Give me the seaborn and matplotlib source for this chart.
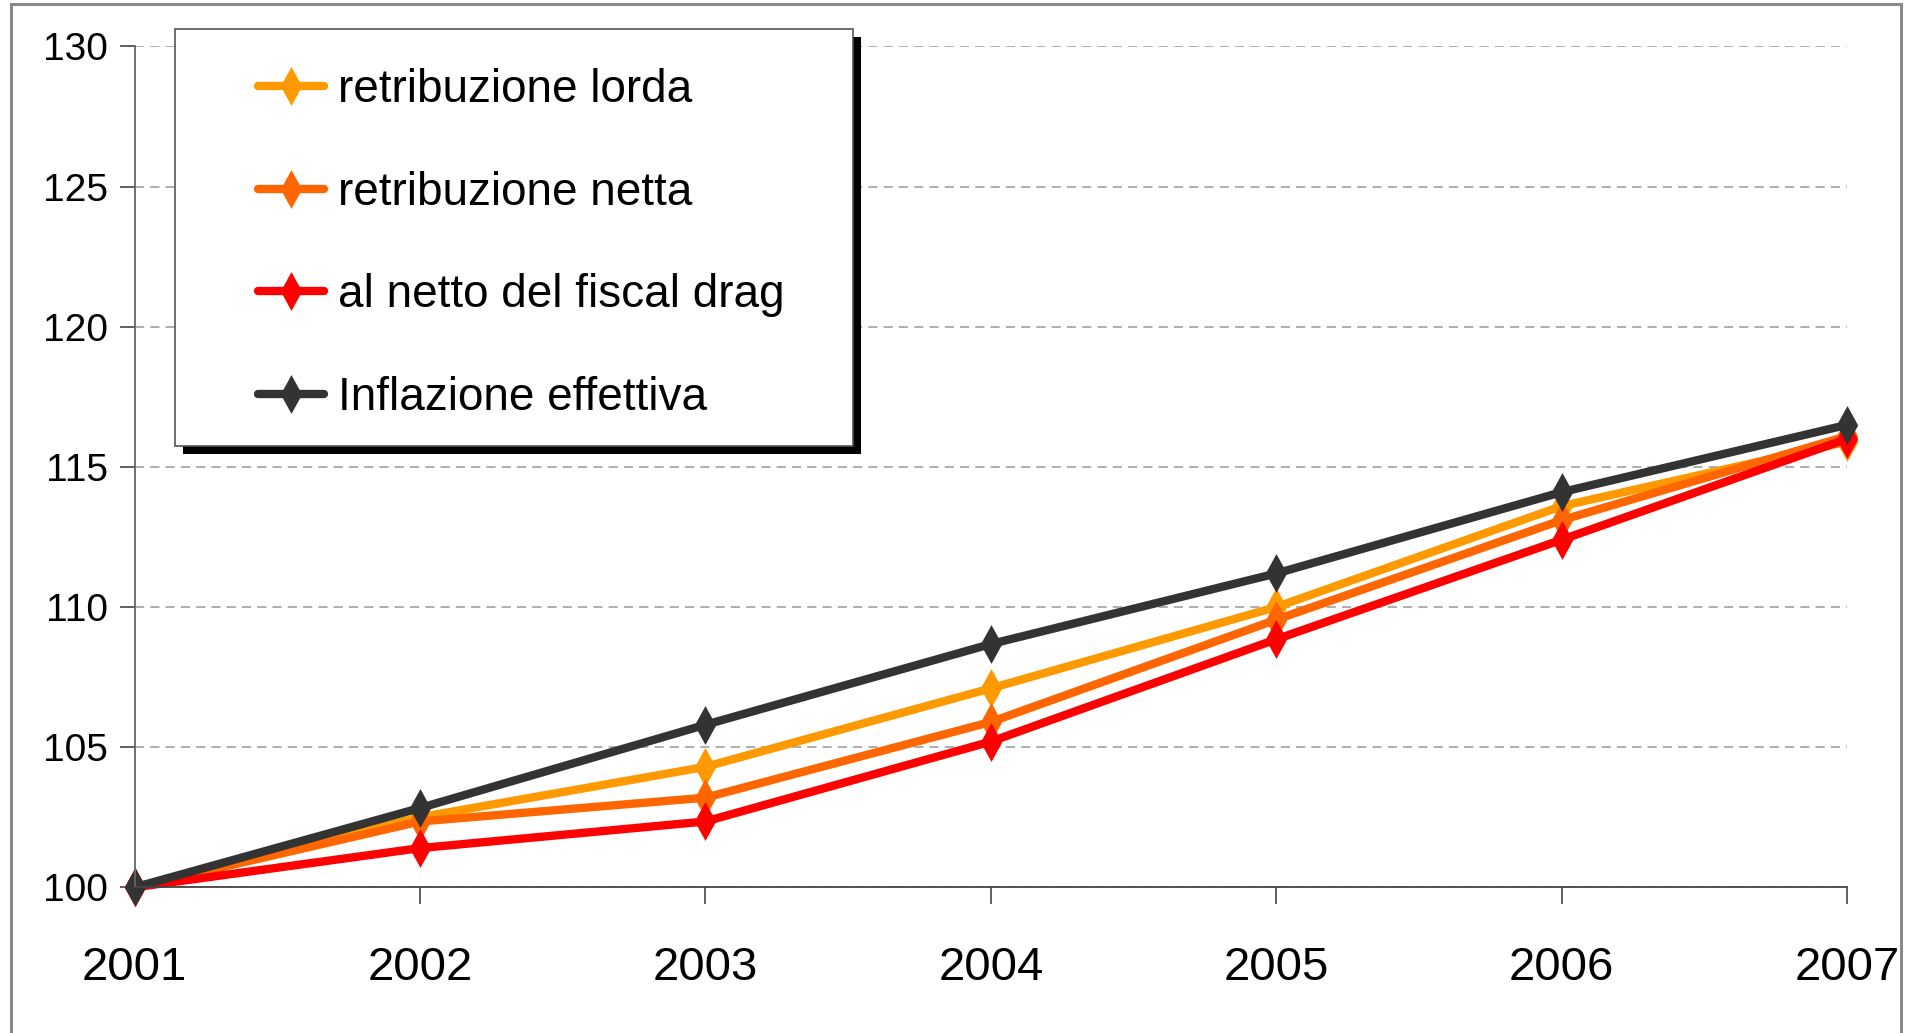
import matplotlib
matplotlib.use("Agg")
import matplotlib.pyplot as plt
from matplotlib.path import Path
from matplotlib.lines import Line2D
from matplotlib.patches import Rectangle
import seaborn as sns
import pandas as pd
from matplotlib import font_manager

anni = [2001, 2002, 2003, 2004, 2005, 2006, 2007]
retribuzione_lorda = [100.0, 102.5, 104.3, 107.1, 110.0, 113.6, 115.9]
retribuzione_netta = [100.0, 102.35, 103.2, 105.9, 109.55, 113.1, 116.1]
al_netto_fiscal_drag = [100.0, 101.4, 102.35, 105.2, 108.85, 112.4, 116.0]
inflazione_effettiva = [100.0, 102.83, 105.8, 108.68, 111.2, 114.1, 116.5]

serie_nomi = ["retribuzione lorda", "retribuzione netta", "al netto del fiscal drag", "Inflazione effettiva"]
serie_valori = [retribuzione_lorda, retribuzione_netta, al_netto_fiscal_drag, inflazione_effettiva]
colori = ["#FF9900", "#FF6600", "#FF0000", "#333333"]
y_ticks = [100, 105, 110, 115, 120, 125, 130]

rows = []
for nome, vals in zip(serie_nomi, serie_valori):
    for a, v in zip(anni, vals):
        rows.append({"anno": a, "valore": v, "serie": nome})
df = pd.DataFrame(rows)

sns.set_theme(style="white")
names = {f.name for f in font_manager.fontManager.ttflist}
narrow_ok = "Liberation Sans Narrow" in names
narrow = "Liberation Sans Narrow" if narrow_ok else "Liberation Sans"
plt.rcParams["font.family"] = ["Liberation Sans", "DejaVu Sans"]
plt.rcParams["text.color"] = "black"

diamond = Path([(0, 1), (0.55, 0), (0, -1), (-0.55, 0), (0, 1)],
               [Path.MOVETO, Path.LINETO, Path.LINETO, Path.LINETO, Path.CLOSEPOLY])

LW = 6.0
MS = 28

fig = plt.figure(figsize=(19.17, 10.33), dpi=100)
ax = fig.add_axes([0.0702, 0.141, 0.8933, 0.814])

palette = dict(zip(serie_nomi, colori))
markers = {n: diamond for n in serie_nomi}
sns.lineplot(data=df, x="anno", y="valore", hue="serie", style="serie",
             hue_order=serie_nomi, style_order=serie_nomi,
             palette=palette, markers=markers, dashes=False,
             linewidth=LW, markersize=MS, markeredgewidth=0,
             legend=False, ax=ax)
for ln in ax.get_lines():
    ln.set_clip_on(False)

xsize = 41 if narrow_ok else 34
lsize = 38 if narrow_ok else 33

ax.set_xlim(2001, 2007)
ax.set_ylim(100, 130)
ax.set_xticks(anni)
ax.set_xticklabels([str(a) for a in anni], fontsize=xsize, family=[narrow, "DejaVu Sans"])
ax.set_yticks(y_ticks)
ax.set_yticklabels([str(t) for t in y_ticks], fontsize=28)
ax.set_xlabel("")
ax.set_ylabel("")
ax.yaxis.grid(True, linestyle=(0, (6, 4)), color="#999999", linewidth=1.1)
ax.xaxis.grid(False)
ax.set_axisbelow(True)
for s in ["top", "right"]:
    ax.spines[s].set_visible(False)
ax.spines["left"].set_color("#666666")
ax.spines["left"].set_linewidth(1.3)
ax.spines["bottom"].set_color("#444444")
ax.spines["bottom"].set_linewidth(1.3)
ax.tick_params(axis="y", which="major", left=True, length=11, width=1.2, color="#444444", pad=8, labelcolor="black")
ax.tick_params(axis="x", which="major", bottom=True, length=12, width=1.2, color="#444444", pad=30, labelcolor="black")

# legend box with shadow
W, H = 1917, 1033
x0, x1, yt, yb = 175, 853, 29, 446
shadow = Rectangle(((x0 + 8) / W, 1 - (yb + 8) / H), (x1 - x0) / W, (yb - yt) / H,
                   transform=fig.transFigure, facecolor="black", edgecolor="none", zorder=4.8, clip_on=False)
box = Rectangle((x0 / W, 1 - yb / H), (x1 - x0) / W, (yb - yt) / H,
                transform=fig.transFigure, facecolor="white", edgecolor="#555555", linewidth=1.2, zorder=4.9, clip_on=False)
ax.add_patch(shadow)
ax.add_patch(box)

handles = [Line2D([0], [0], color=c, linewidth=LW, marker=diamond, markersize=MS, markeredgewidth=0)
           for c in colori]
leg = ax.legend(handles, serie_nomi, loc="upper left", bbox_to_anchor=(258 / W, 1 - 68 / H),
                bbox_transform=fig.transFigure, frameon=False, borderpad=0, borderaxespad=0,
                handlelength=1.45, handletextpad=0.3, labelspacing=1.28,
                prop={"family": [narrow, "DejaVu Sans"], "size": lsize}, labelcolor="black")
leg.set_zorder(5)

# outer frame
frame = Rectangle((11 / W, -0.05), (1901 - 11) / W, 1.05 - 4 / H, transform=fig.transFigure,
                  facecolor="none", edgecolor="#8a8a8a", linewidth=2.2, zorder=10)
fig.patches.append(frame)

fig.savefig("out.png", dpi=100)
